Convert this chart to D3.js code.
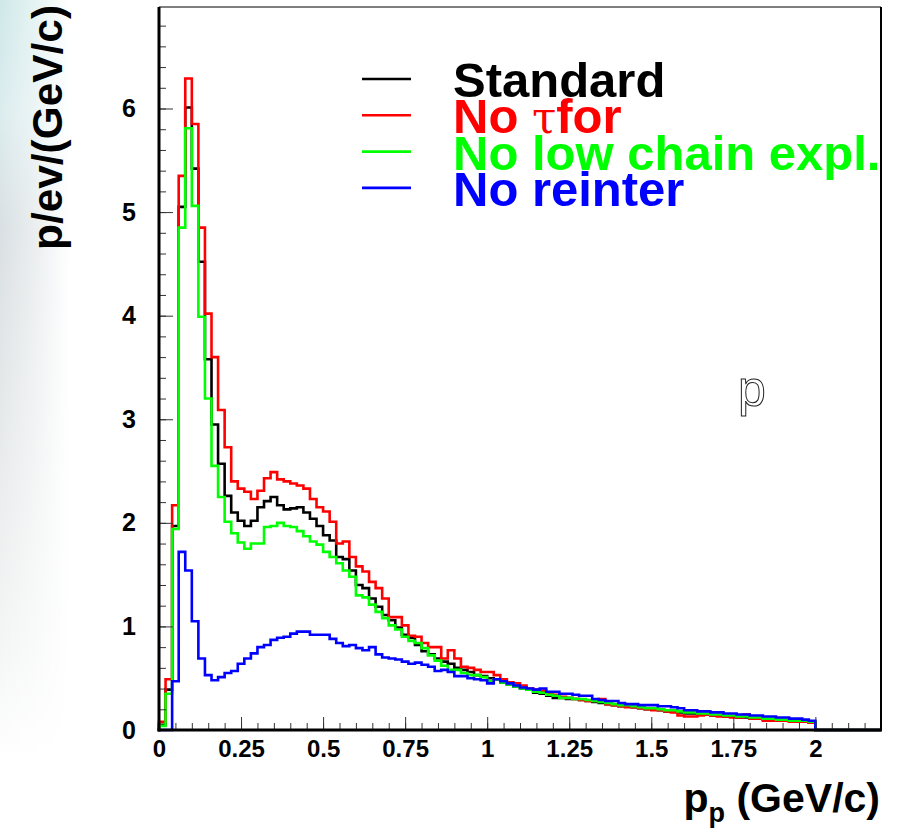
<!DOCTYPE html>
<html>
<head>
<meta charset="utf-8">
<script src="https://cdn.jsdelivr.net/npm/d3@7"></script>
<style>
  html, body { margin: 0; padding: 0; background: #fff; }
  svg { display: block; }
  text { font-family: "Liberation Sans", Arial, Helvetica, sans-serif; font-weight: bold; }
</style>
</head>
<body>
<svg id="chart" width="905" height="831"></svg>
<script>
// Proton momentum spectra, 0.02 GeV/c bins from 0 to 2 GeV/c (histogram axis runs to 2.2)
const binWidth = 0.02;
const xMax = 2.2;
const yMax = 6.98;

const standard = [
  0.05, 0.39, 1.97, 5.05, 6.01, 5.42, 4.52, 3.58, 2.95, 2.57,
  2.26, 2.10, 2.02, 1.97, 2.02, 2.15, 2.21, 2.25, 2.17, 2.13,
  2.14, 2.15, 2.10, 2.04, 1.97, 1.88, 1.83, 1.67, 1.65, 1.54,
  1.40, 1.37, 1.27, 1.19, 1.11, 1.06, 0.99, 0.92, 0.89, 0.82,
  0.76, 0.73, 0.69, 0.66, 0.64, 0.60, 0.58, 0.56, 0.53, 0.52,
  0.50, 0.49, 0.46, 0.44, 0.42, 0.40, 0.39, 0.36, 0.35, 0.33,
  0.31, 0.31, 0.30, 0.30, 0.29, 0.28, 0.27, 0.26, 0.25, 0.24,
  0.23, 0.23, 0.22, 0.21, 0.20, 0.20, 0.19, 0.18, 0.18, 0.17,
  0.16, 0.16, 0.15, 0.15, 0.14, 0.14, 0.13, 0.13, 0.12, 0.12,
  0.11, 0.11, 0.10, 0.10, 0.09, 0.09, 0.08, 0.08, 0.08, 0.07
];
const noTauFor = [
  0.08, 0.49, 2.17, 5.35, 6.29, 5.85, 4.85, 4.02, 3.60, 3.09,
  2.73, 2.40, 2.33, 2.30, 2.23, 2.31, 2.43, 2.49, 2.42, 2.40,
  2.38, 2.36, 2.33, 2.23, 2.15, 2.11, 2.01, 1.80, 1.82, 1.67,
  1.58, 1.53, 1.43, 1.37, 1.27, 1.09, 1.09, 1.01, 0.91, 0.90,
  0.84, 0.80, 0.80, 0.69, 0.77, 0.69, 0.61, 0.60, 0.58, 0.56,
  0.56, 0.53, 0.49, 0.46, 0.45, 0.43, 0.40, 0.39, 0.38, 0.36,
  0.34, 0.32, 0.31, 0.30, 0.29, 0.28, 0.28, 0.30, 0.25, 0.24,
  0.23, 0.22, 0.22, 0.21, 0.20, 0.19, 0.19, 0.18, 0.17, 0.14,
  0.13, 0.13, 0.14, 0.15, 0.14, 0.13, 0.13, 0.12, 0.12, 0.15,
  0.11, 0.11, 0.09, 0.09, 0.09, 0.09, 0.08, 0.08, 0.08, 0.07
];
const noLowChainExpl = [
  0.04, 0.35, 1.94, 4.85, 5.81, 5.06, 3.99, 3.20, 2.55, 2.25,
  2.01, 1.90, 1.81, 1.75, 1.80, 1.80, 1.96, 1.97, 2.00, 1.97,
  1.96, 1.92, 1.87, 1.82, 1.79, 1.72, 1.67, 1.61, 1.54, 1.48,
  1.30, 1.28, 1.21, 1.14, 1.08, 1.01, 0.97, 0.90, 0.86, 0.84,
  0.79, 0.72, 0.67, 0.62, 0.58, 0.58, 0.55, 0.53, 0.53, 0.51,
  0.47, 0.49, 0.46, 0.44, 0.42, 0.40, 0.39, 0.37, 0.36, 0.34,
  0.33, 0.31, 0.31, 0.30, 0.30, 0.29, 0.28, 0.27, 0.26, 0.25,
  0.24, 0.24, 0.23, 0.22, 0.21, 0.21, 0.20, 0.19, 0.19, 0.18,
  0.17, 0.17, 0.16, 0.16, 0.15, 0.15, 0.14, 0.14, 0.13, 0.13,
  0.12, 0.12, 0.11, 0.11, 0.10, 0.10, 0.09, 0.09, 0.09, 0.08
];
const noReinter = [
  0.00, 0.00, 0.47, 1.72, 1.54, 1.05, 0.69, 0.53, 0.48, 0.51,
  0.55, 0.57, 0.64, 0.69, 0.74, 0.80, 0.82, 0.87, 0.89, 0.90,
  0.93, 0.95, 0.95, 0.92, 0.92, 0.92, 0.88, 0.84, 0.81, 0.82,
  0.79, 0.77, 0.80, 0.73, 0.70, 0.69, 0.68, 0.66, 0.64, 0.65,
  0.63, 0.61, 0.57, 0.58, 0.56, 0.52, 0.52, 0.50, 0.49, 0.48,
  0.45, 0.49, 0.47, 0.45, 0.43, 0.41, 0.40, 0.39, 0.40, 0.37,
  0.37, 0.35, 0.35, 0.34, 0.33, 0.33, 0.30, 0.29, 0.28, 0.28,
  0.26, 0.25, 0.25, 0.24, 0.24, 0.24, 0.23, 0.23, 0.22, 0.21,
  0.19, 0.19, 0.18, 0.18, 0.17, 0.17, 0.16, 0.16, 0.15, 0.15,
  0.14, 0.14, 0.13, 0.13, 0.12, 0.12, 0.11, 0.11, 0.10, 0.09
];

const seriesNames = ["Standard", "No \u03C4for", "No low chain expl.", "No reinter"];
const seriesColors = ["#000000", "#ff0000", "#00ff00", "#0000ff"];
const seriesData = [standard, noTauFor, noLowChainExpl, noReinter];

const xTickValues = [0, 0.25, 0.5, 0.75, 1, 1.25, 1.5, 1.75, 2];
const xTickLabels = ["0", "0.25", "0.5", "0.75", "1", "1.25", "1.5", "1.75", "2"];
const yTickValues = [0, 1, 2, 3, 4, 5, 6];
const yTickLabels = ["0", "1", "2", "3", "4", "5", "6"];

const svg = d3.select("#chart");

// faint backdrop along the left edge
const defs = svg.append("defs");
const vg = defs.append("linearGradient").attr("id", "edgeTint").attr("x1", 0).attr("y1", 0).attr("x2", 0).attr("y2", 1);
[["0", "#cfe8e8"], ["0.15", "#dcecee"], ["0.3", "#d9dfe2"], ["0.55", "#e6e9ea"], ["0.85", "#f4f5f5"], ["1", "#ffffff"]]
  .forEach(([o, c]) => vg.append("stop").attr("offset", o).attr("stop-color", c));
const hg = defs.append("linearGradient").attr("id", "edgeFade").attr("x1", 0).attr("y1", 0).attr("x2", 1).attr("y2", 0);
hg.append("stop").attr("offset", "0").attr("stop-color", "#fff");
hg.append("stop").attr("offset", "0.5").attr("stop-color", "#888");
hg.append("stop").attr("offset", "1").attr("stop-color", "#000");
defs.append("mask").attr("id", "edgeMask").attr("maskContentUnits", "objectBoundingBox")
  .append("rect").attr("width", 1).attr("height", 1).attr("fill", "url(#edgeFade)");
svg.append("rect").attr("x", 0).attr("y", 0).attr("width", 70).attr("height", 760)
  .attr("fill", "url(#edgeTint)").attr("mask", "url(#edgeMask)");

const x = d3.scaleLinear().domain([0, xMax]).range([159, 881]);
const y = d3.scaleLinear().domain([0, yMax]).range([730, 7]);

// histograms: empty bins above 2 GeV/c up to the axis end
const nBins = Math.round(xMax / binWidth);
function stepPoints(values) {
  const pts = [[0, 0]];
  for (let i = 0; i < nBins; i++) {
    const v = i < values.length ? values[i] : 0;
    pts.push([i * binWidth, v], [(i + 1) * binWidth, v]);
  }
  pts.push([xMax, 0]);
  return pts;
}
const line = d3.line().x(d => x(d[0])).y(d => y(d[1]));

const plot = svg.append("g");
seriesData.forEach((vals, k) => {
  plot.append("path")
    .attr("d", line(stepPoints(vals)))
    .attr("fill", "none")
    .attr("stroke", seriesColors[k])
    .attr("stroke-width", 2.6)
    .attr("stroke-linejoin", "miter");
});

// axes with inward ticks
const xMinor = d3.range(0, xMax + 1e-9, 0.05).map(v => +v.toFixed(2));
const yMinor = d3.range(0, yMax, 0.2).map(v => +v.toFixed(2));

const xAxisMinor = svg.append("g").attr("transform", `translate(0,${y(0)})`)
  .call(d3.axisBottom(x).tickValues(xMinor).tickSize(-7).tickSizeOuter(0).tickFormat(""));
const xAxisMajor = svg.append("g").attr("transform", `translate(0,${y(0)})`)
  .call(d3.axisBottom(x).tickValues(xTickValues).tickSize(-13).tickSizeOuter(0).tickPadding(10)
    .tickFormat((d, i) => xTickLabels[i]));
const yAxisMinor = svg.append("g").attr("transform", `translate(${x(0)},0)`)
  .call(d3.axisLeft(y).tickValues(yMinor).tickSize(-7).tickSizeOuter(0).tickFormat(""));
const yAxisMajor = svg.append("g").attr("transform", `translate(${x(0)},0)`)
  .call(d3.axisLeft(y).tickValues(yTickValues).tickSize(-14).tickSizeOuter(0).tickPadding(23)
    .tickFormat((d, i) => yTickLabels[i]));

[xAxisMinor, xAxisMajor, yAxisMinor, yAxisMajor].forEach(g => {
  g.select(".domain").remove();
  g.selectAll(".tick line").attr("stroke", "#333").attr("stroke-width", 1);
  g.selectAll(".tick text").attr("fill", "#000").style("font-size", "24px").style("font-weight", "bold")
    .style("font-family", "'Liberation Sans', Arial, sans-serif");
});
yAxisMajor.selectAll(".tick text").style("font-size", "25px");

// frame
const frame = svg.append("g").attr("fill", "none").attr("stroke", "#000");
frame.append("line").attr("x1", x(0)).attr("x2", x(0)).attr("y1", y(yMax)).attr("y2", y(0) + 1.5).attr("stroke-width", 3);
frame.append("line").attr("x1", x(0) - 1.5).attr("x2", x(xMax) + 1).attr("y1", y(0)).attr("y2", y(0)).attr("stroke-width", 3);
frame.append("line").attr("x1", x(xMax)).attr("x2", x(xMax)).attr("y1", y(yMax)).attr("y2", y(0)).attr("stroke-width", 2);
frame.append("line").attr("x1", x(0)).attr("x2", x(xMax)).attr("y1", y(yMax)).attr("y2", y(yMax)).attr("stroke-width", 1);

// axis titles
svg.append("text")
  .attr("transform", `translate(62,5) rotate(-90)`)
  .attr("text-anchor", "end")
  .style("font-size", "42px")
  .attr("textLength", 245)
  .attr("lengthAdjust", "spacingAndGlyphs")
  .text("p/ev/(GeV/c)");

const xt = svg.append("text")
  .attr("x", 880).attr("y", 812)
  .attr("text-anchor", "end")
  .style("font-size", "41px");
xt.append("tspan").text("p");
xt.append("tspan").attr("dy", 10).style("font-size", "27px").text("p");
xt.append("tspan").attr("dy", -10).text(" (GeV/c)");

// legend
const legendX = 453, legendY0 = 97, legendStep = 36.3;
seriesNames.forEach((name, k) => {
  const by = legendY0 + k * legendStep;
  svg.append("line")
    .attr("x1", 362).attr("x2", 411)
    .attr("y1", by - 18).attr("y2", by - 18)
    .attr("stroke", seriesColors[k]).attr("stroke-width", 2.6);
  const t = svg.append("text").attr("x", legendX).attr("y", by)
    .attr("fill", seriesColors[k]).style("font-size", "49px");
  if (name.includes("\u03C4")) {
    const [pre, post] = name.split("\u03C4");
    t.append("tspan").text(pre);
    t.append("tspan").style("font-family", "'DejaVu Serif', 'Liberation Serif', serif")
      .style("font-weight", "normal").style("font-size", "44px").text("\u03C4");
    t.append("tspan").text(post);
  } else {
    t.text(name);
  }
});

// particle label
svg.append("text")
  .attr("x", 738).attr("y", 406)
  .style("font-family", "'Liberation Sans', Arial, sans-serif")
  .style("font-weight", "normal")
  .style("font-size", "50px")
  .attr("fill", "none").attr("stroke", "#222").attr("stroke-width", 1)
  .text("p");
</script>
</body>
</html>
